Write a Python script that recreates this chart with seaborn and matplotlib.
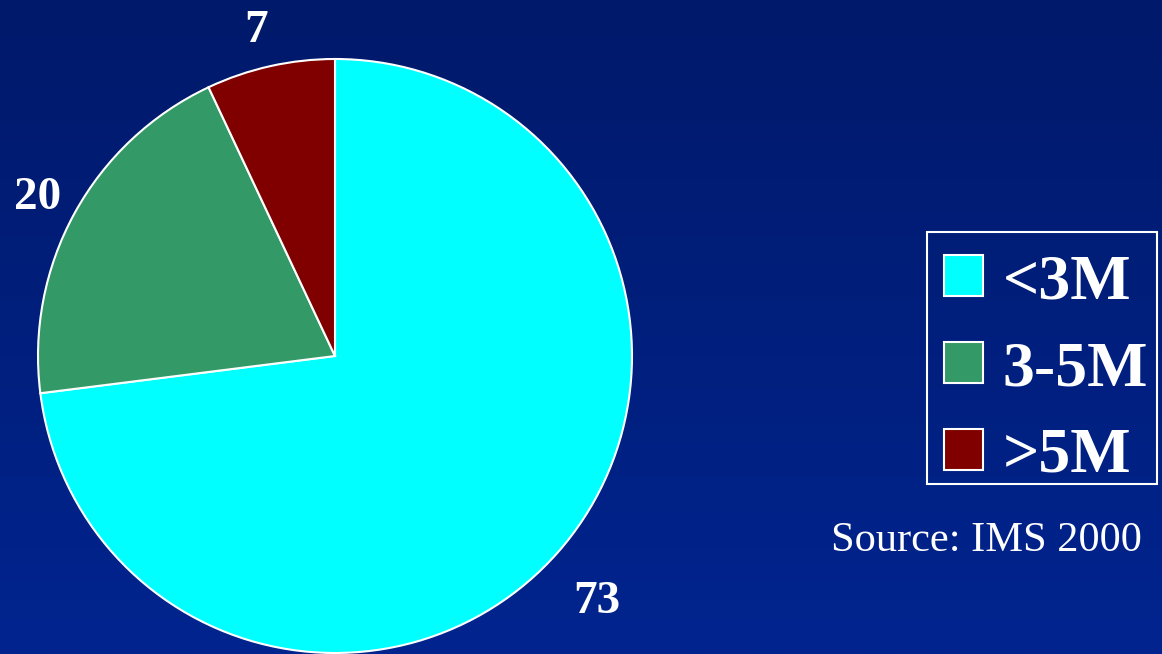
import numpy as np
import matplotlib
matplotlib.use("Agg")
import matplotlib.pyplot as plt
import seaborn as sns
from matplotlib.colors import LinearSegmentedColormap
from matplotlib.patches import Rectangle

# Market share by size band
categories = ["<3M", "3-5M", ">5M"]
shares = [73, 20, 7]
colors = ["#00FFFF", "#339966", "#800000"]
source_note = "Source: IMS 2000"

sns.set_theme(style="white")
plt.rcParams["font.family"] = ["Liberation Serif", "DejaVu Serif"]

W, H = 1162, 654
fig = plt.figure(figsize=(W / 100, H / 100), dpi=100)

# Vertical navy gradient background
bg = fig.add_axes([0, 0, 1, 1], zorder=0)
grad = np.linspace(0, 1, 256).reshape(-1, 1)
cmap = LinearSegmentedColormap.from_list("navy", ["#00196A", "#00248F"])
bg.imshow(grad, aspect="auto", cmap=cmap, extent=[0, 1, 0, 1], origin="upper")
bg.set_axis_off()

# Pie axes: centre (335, 356) px, radius 297 px
cx, cy, R = 335, 356, 297
half = 360
ax = fig.add_axes([(cx - half) / W, (H - cy - half) / H, 2 * half / W, 2 * half / H], zorder=1)
ax.set_facecolor("none")
lim = half / R
wedges, _ = ax.pie(
    shares,
    colors=colors,
    startangle=90,
    counterclock=False,
    wedgeprops=dict(edgecolor="white", linewidth=1.5),
    radius=1.0,
)

# Value labels just outside each wedge
label_dist = [1.21, 1.135, 1.125]
angle_shift = [-1.9, 0.8, 1.0]
for w, v, d, s in zip(wedges, shares, label_dist, angle_shift):
    mid = np.deg2rad((w.theta1 + w.theta2) / 2 + s)
    ax.text(d * np.cos(mid), d * np.sin(mid), str(v), color="white",
            fontsize=34, fontweight="bold", ha="center", va="center")

ax.set_xlim(-lim, lim)
ax.set_ylim(-lim, lim)
ax.set_aspect("equal")
ax.set_axis_off()

# Legend entries (frame drawn separately as a plain box)
leg = fig.legend(
    wedges,
    categories,
    loc="center",
    bbox_to_anchor=(1046 / W, 1 - 370 / H),
    frameon=False,
    handlelength=0.62,
    handleheight=0.62,
    handletextpad=0.3,
    labelspacing=0.45,
    borderpad=0.2,
    borderaxespad=0,
    prop=dict(size=46, weight="bold"),
)
for txt in leg.get_texts():
    txt.set_color("white")

fig.patches.append(Rectangle((927 / W, 1 - 484 / H), (1157 - 927) / W, (484 - 232) / H,
                             transform=fig.transFigure, fill=False,
                             edgecolor="white", linewidth=1.5, zorder=3))

fig.text(986 / W, 1 - 541 / H, source_note, color="white", fontsize=30.5,
         ha="center", va="center")

fig.savefig("out.png", dpi=100)
